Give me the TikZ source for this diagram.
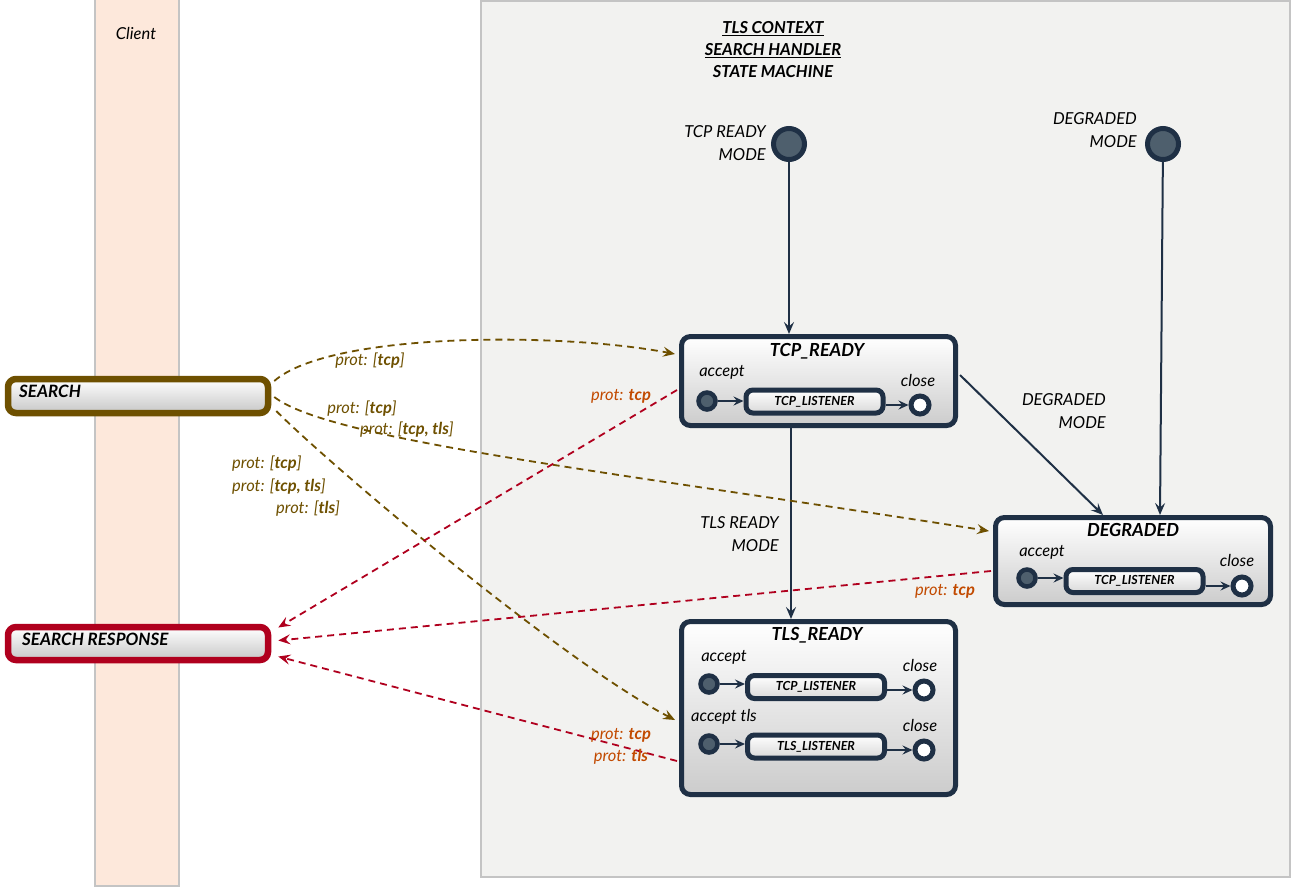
\documentclass[tikz,border=0pt]{standalone}
\usepackage{fontspec}
\setmainfont{Lato}
\usetikzlibrary{arrows.meta,calc,shadows}

\definecolor{navy}{HTML}{1F3045}
\definecolor{dotfill}{HTML}{4E5F6D}
\definecolor{reqbrown}{HTML}{6E5000}
\definecolor{resred}{HTML}{B0001E}
\definecolor{protorange}{HTML}{C24A00}
\definecolor{lanefill}{HTML}{FDE8DB}
\definecolor{ctxfill}{HTML}{F2F2F0}
\definecolor{framegray}{HTML}{C4C4C4}

\begin{document}
\begin{tikzpicture}[x=1pt,y=-1pt,
  txt/.style={inner sep=0pt, font=\itshape\fontsize{16.5}{19}\selectfont},
  twoline/.style={txt, anchor=east, align=right, font=\itshape\fontsize{16.5}{22.5}\selectfont},
  ttl/.style={inner sep=0pt, font=\bfseries\itshape\fontsize{18}{20}\selectfont},
  lstxt/.style={inner sep=0pt, font=\bfseries\itshape\fontsize{12.5}{14}\selectfont},
  msgtxt/.style={inner sep=0pt, anchor=west, font=\bfseries\itshape\fontsize{17}{19}\selectfont},
  statebox/.style={draw=navy, line width=5pt, rounded corners=9pt,
    top color=white, bottom color=black!20,
    drop shadow={shadow xshift=1pt, shadow yshift=-2pt, opacity=0.3}},
  listener/.style={draw=navy, line width=5pt, rounded corners=7pt,
    top color=white, bottom color=black!15, minimum width=137pt, minimum height=23pt, inner sep=0pt},
  acceptdot/.style={circle, draw=navy, line width=4.5pt, fill=dotfill, minimum size=17pt, inner sep=0pt},
  closedot/.style={circle, draw=navy, line width=5pt, fill=white, minimum size=18pt, inner sep=0pt},
  initdot/.style={circle, draw=navy, line width=5pt, fill=dotfill, minimum size=31pt, inner sep=0pt},
  msgbox/.style={line width=6.5pt, rounded corners=8pt, top color=white, bottom color=black!22,
    minimum width=260pt, minimum height=34pt, inner sep=0pt,
    drop shadow={shadow xshift=1pt, shadow yshift=-2pt, opacity=0.3}},
  tipshape/.tip={Stealth[length=12pt,width=10pt,inset=4.5pt]},
  flow/.style={draw=navy, line width=2pt, -tipshape},
  small/.style={draw=navy, line width=1.8pt, -{Stealth[length=10pt,width=9pt,inset=3.5pt]}},
  req/.style={draw=reqbrown, line width=1.8pt, dash pattern=on 7pt off 5pt, -tipshape},
  res/.style={draw=resred, line width=1.8pt, dash pattern=on 7pt off 5pt, -tipshape},
  reqlbl/.style={txt, text=reqbrown},
  reslbl/.style={txt, text=protorange}
]
\useasboundingbox (0,0) rectangle (1292,887);

% swimlanes
\filldraw[fill=lanefill, draw=framegray, line width=1.5pt] (95,-2) rectangle (179,886);
\node[txt] (clientlbl) at (136,33) {Client};
\filldraw[fill=ctxfill, draw=framegray, line width=1.5pt] (481,1) rectangle (1290,877);

% heading of the state machine
\node[inner sep=0pt, align=center, font=\bfseries\itshape\fontsize{16.5}{22}\selectfont] (heading) at (773,50)
  {\underline{TLS CONTEXT}\\\underline{SEARCH HANDLER}\\STATE MACHINE};

% initial pseudo-states
\node[initdot] (i1) at (789,144) {};
\node[twoline] (i1lbl) at (766,143) {TCP READY\\MODE};
\node[initdot] (i2) at (1163,144) {};
\node[twoline] (i2lbl) at (1137,130) {DEGRADED\\MODE};

% TCP_READY state
\node[statebox, minimum width=274pt, minimum height=89pt] (tcpr) at (818.5,381) {};
\node[ttl] (tcprttl) at (817,351) {TCP\_READY};
\node[txt] (tcpracc) at (722,372) {accept};
\node[acceptdot] (tcpra) at (707,401) {};
\node[listener] (tcprl) at (814.5,401.5) {};
\node[lstxt] at (tcprl) {TCP\_LISTENER};
\node[closedot] (tcprc) at (920,405) {};
\node[txt] (tcprcl) at (918,380) {close};
\draw[small] (tcpra) -- (tcpra -| tcprl.west);
\draw[small] (tcprc -| tcprl.east) -- (tcprc);

% DEGRADED state
\node[statebox, minimum width=275pt, minimum height=87pt] (degr) at (1133,561) {};
\node[ttl] (degrttl) at (1133,530) {DEGRADED};
\node[txt] (degracc) at (1042,552) {accept};
\node[acceptdot] (degra) at (1027,578) {};
\node[listener] (degrl) at (1134.5,581) {};
\node[lstxt] at (degrl) {TCP\_LISTENER};
\node[closedot] (degrc) at (1242,586) {};
\node[txt] (degrcl) at (1237,560) {close};
\draw[small] (degra) -- (degra -| degrl.west);
\draw[small] (degrc -| degrl.east) -- (degrc);

% TLS_READY state
\node[statebox, minimum width=274pt, minimum height=173pt] (tlsr) at (818.5,708) {};
\node[ttl] (tlsrttl) at (817,635) {TLS\_READY};
\node[txt] (tlsracc) at (724,657) {accept};
\node[acceptdot] (tlsra) at (709,684) {};
\node[listener] (tlsrl) at (816,687) {};
\node[lstxt] at (tlsrl) {TCP\_LISTENER};
\node[closedot] (tlsrc) at (924,690) {};
\node[txt] (tlsrcl) at (920,665) {close};
\draw[small] (tlsra) -- (tlsra -| tlsrl.west);
\draw[small] (tlsrc -| tlsrl.east) -- (tlsrc);
\node[txt] (tlsracct) at (724,717) {accept tls};
\node[acceptdot] (tlsrb) at (709,744) {};
\node[listener] (tlsrm) at (816,746.5) {};
\node[lstxt] at (tlsrm) {TLS\_LISTENER};
\node[closedot] (tlsrd) at (924,750) {};
\node[txt] (tlsrdl) at (920,725) {close};
\draw[small] (tlsrb) -- (tlsrb -| tlsrm.west);
\draw[small] (tlsrd -| tlsrm.east) -- (tlsrd);

% state transitions
\draw[flow] (i1) -- (i1 |- tcpr.north);
\draw[flow] (i2) -- ($(degr.north)+(27,0)$);
\draw[flow] ($(tcpr.east)+(2,-6)$) -- ($(degr.north)+(-30,0)$);
\node[twoline] (dmlbl) at (1106,411) {DEGRADED\\MODE};
\draw[flow] ($(tcpr.south)+(-27.5,0)$) -- ($(tlsr.north)+(-27.5,0)$);
\node[twoline] (tmlbl) at (779,534) {TLS READY\\MODE};

% client messages
\node[msgbox, draw=reqbrown] (search) at (138,396) {};
\node[msgtxt] (searchtxt) at (19,391) {SEARCH};
\node[msgbox, draw=resred, minimum height=33pt] (sresp) at (138,643.5) {};
\node[msgtxt] (sresptxt) at (22,639) {SEARCH RESPONSE};

% requests
\draw[req] ($(search.east)+(3,-15)$) .. controls (330,332) and (560,332) .. ($(tcpr.west)+(-4,-27)$);
\node[reqlbl] (q1) at (370,361) {prot: [\textbf{tcp}]};
\draw[req] ($(search.east)+(3,1)$) .. controls (330,440) and (600,470) .. ($(degr.west)+(-4,-30)$);
\node[reqlbl] (q2) at (362,409) {prot: [\textbf{tcp}]};
\node[reqlbl] (q3) at (407,430) {prot: [\textbf{tcp, tls}]};
\draw[req] ($(search.east)+(5,15)$) .. controls (330,465) and (560,660) .. ($(tlsr.west)+(-4,12)$);
\node[reqlbl, anchor=west] (q4) at (232,464) {prot: [\textbf{tcp}]};
\node[reqlbl, anchor=west] (q5) at (232,487) {prot: [\textbf{tcp, tls}]};
\node[reqlbl, anchor=west] (q6) at (276,509) {prot: [\textbf{tls}]};

% responses
\draw[res] ($(tcpr.west)+(-2,9)$) -- ($(sresp.east)+(7,-16)$);
\node[reslbl] (r1) at (621,396) {prot: \textbf{tcp}};
\draw[res] ($(degr.west)+(-2,10)$) -- ($(sresp.east)+(7,-3)$);
\node[reslbl] (r2) at (945,591) {prot: \textbf{tcp}};
\draw[res] ($(tlsr.west)+(-2,53)$) -- ($(sresp.east)+(7,13)$);
\node[reslbl] (r3) at (621,735) {prot: \textbf{tcp}};
\node[reslbl] (r4) at (621,757) {prot: \textbf{tls}};
\end{tikzpicture}
\end{document}
